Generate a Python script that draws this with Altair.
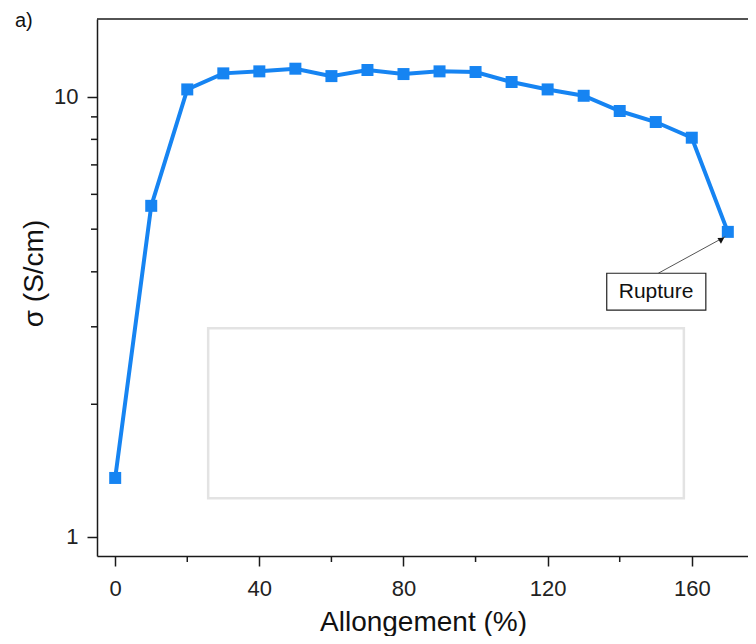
import altair as alt
import pandas as pd

# ---- data ----
elongation = [0, 10, 20, 30, 40, 50, 60, 70, 80, 90, 100, 110, 120, 130, 140, 150, 160, 170]
sigma = [1.36, 5.65, 10.39, 11.30, 11.42, 11.58, 11.14, 11.50, 11.26, 11.42, 11.38,
         10.80, 10.39, 10.05, 9.28, 8.76, 8.07, 4.93]

x_major_ticks = [0, 40, 80, 120, 160]
x_minor_ticks = [20, 60, 100, 140]
y_major_ticks = [1, 10]
y_minor_ticks = [2, 3, 4, 5, 6, 7, 8, 9]

inset_x = [25.8, 157.8]
inset_y = [1.223, 2.976]

rupture_label = ["Rupture"]
rupture_box_x = [136.4, 163.9]
rupture_box_y = [3.275, 3.97]
rupture_text_pos = [150.1, 3.606]
arrow_from = [150.7, 3.97]
arrow_to = [169.3, 4.81]
arrow_head = [168.3, 4.74]

BLUE = "#1684f2"
FONT = "Liberation Sans"
AXIS_COLOR = "#1a1a1a"
W, H = 651, 537

xs = alt.Scale(domain=[-5.05, 175.6], nice=False, zero=False)
ys = alt.Scale(type="log", domain=[0.904, 15.02], nice=False)

df = pd.DataFrame({"x": elongation, "y": sigma})

x_axis = alt.Axis(
    values=x_major_ticks, tickSize=10,
    labelFontSize=22, labelPadding=12, title="Allongement (%)", titleFontSize=28,
    titleFontWeight="normal", titleX=326, titleY=74, titleBaseline="alphabetic",
    grid=False, labelOverlap=False,
)
y_axis = alt.Axis(
    values=y_major_ticks, tickSize=10,
    labelFontSize=22, labelPadding=9, title="σ (S/cm)", titleFontSize=28,
    titleFontWeight="normal", titleX=-55, titleY=254, titleBaseline="alphabetic",
    grid=False, labelOverlap=False,
)

X = alt.X("x:Q", scale=xs, axis=x_axis)
Y = alt.Y("y:Q", scale=ys, axis=y_axis)

line = alt.Chart(df).mark_line(color=BLUE, strokeWidth=4).encode(x=X, y=Y)
pts = alt.Chart(df).mark_point(shape="square", filled=True, color=BLUE, size=144, opacity=1).encode(x=X, y=Y)

# minor ticks
xminor = alt.Chart(pd.DataFrame({"x": x_minor_ticks})).mark_rule(
    color=AXIS_COLOR, strokeWidth=1.5).encode(x=X, y=alt.value(H), y2=alt.value(H + 6))
yminor = alt.Chart(pd.DataFrame({"y": y_minor_ticks})).mark_rule(
    color=AXIS_COLOR, strokeWidth=1.5).encode(y=Y, x=alt.value(-6), x2=alt.value(0))

inset_df = pd.DataFrame({"x": [inset_x[0]], "x2": [inset_x[1]], "y": [inset_y[0]], "y2": [inset_y[1]]})
inset = alt.Chart(inset_df).mark_rect(fill=None, stroke="#e3e3e3", strokeWidth=2.5).encode(
    x=X, x2="x2:Q", y=Y, y2="y2:Q")

arrow_df = pd.DataFrame({"x": [arrow_from[0]], "x2": [arrow_to[0]], "y": [arrow_from[1]], "y2": [arrow_to[1]]})
arrow = alt.Chart(arrow_df).mark_rule(color="#555555", strokeWidth=1).encode(
    x=X, x2="x2:Q", y=Y, y2="y2:Q")
head_df = pd.DataFrame({"x": [arrow_head[0]], "y": [arrow_head[1]]})
head = alt.Chart(head_df).mark_point(shape="triangle-up", filled=True, color="#111111",
                                      size=45, opacity=1, angle=58.6).encode(x=X, y=Y)

box_df = pd.DataFrame({"x": [rupture_box_x[0]], "x2": [rupture_box_x[1]],
                       "y": [rupture_box_y[0]], "y2": [rupture_box_y[1]]})
box = alt.Chart(box_df).mark_rect(fill="white", stroke="#222222", strokeWidth=1.2).encode(
    x=X, x2="x2:Q", y=Y, y2="y2:Q")
txt_df = pd.DataFrame({"x": [rupture_text_pos[0]], "y": [rupture_text_pos[1]], "t": rupture_label})
txt = alt.Chart(txt_df).mark_text(font=FONT, fontSize=21, color="#111111",
                                  align="center", baseline="middle").encode(x=X, y=Y, text="t:N")

top_border = alt.Chart(pd.DataFrame({"a": [0]})).mark_rule(color=AXIS_COLOR, strokeWidth=1.5).encode(
    x=alt.value(0), x2=alt.value(W), y=alt.value(0)
)
panel_label = alt.Chart(pd.DataFrame({"t": ["a)"]})).mark_text(
    font=FONT, fontSize=20, color="#111111", align="left", baseline="alphabetic"
).encode(x=alt.value(-82), y=alt.value(8), text="t:N")

chart = alt.layer(line, pts, xminor, yminor, inset, arrow, head, box, txt, top_border,
                  panel_label).properties(
    width=W, height=H,
    autosize=alt.AutoSizeParams(type="none"),
    padding={"left": 89, "top": 11, "right": 0, "bottom": 80},
).configure_view(stroke=None).configure_axis(
    domainColor=AXIS_COLOR, domainWidth=1.5, tickColor=AXIS_COLOR, tickWidth=1.5,
    labelColor="#222222", titleColor="#111111", labelFont=FONT, titleFont=FONT,
)

chart.save("out.html", embed_options={"renderer": "svg", "actions": False})
